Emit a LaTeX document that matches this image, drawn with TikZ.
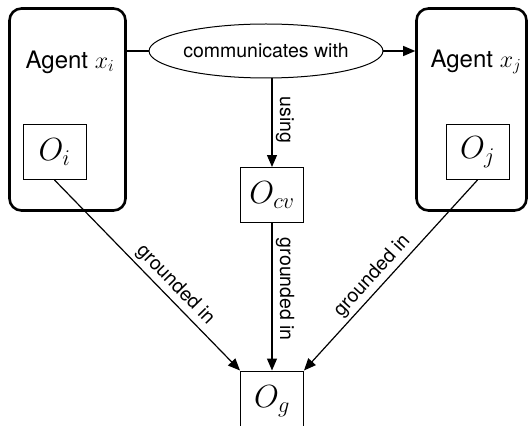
\documentclass[tikz,border=0pt]{standalone}
\usepackage{fix-cm}
\usepackage{fontspec}
\setmainfont{TeX Gyre Heros}
\usetikzlibrary{shapes.geometric,arrows.meta}
\begin{document}
\begin{tikzpicture}[x=1pt,y=-1pt,
	agent/.style={draw,line width=2.6pt,rounded corners=12pt,minimum width=#1,minimum height=202pt,inner sep=0pt},
	ontbox/.style={draw,line width=1pt,minimum width=63pt,minimum height=55pt,inner sep=0pt,font=\fontsize{32}{34}\selectfont},
	lbl/.style={font=\fontsize{19.5}{21}\selectfont},
	arr/.style={line width=1.2pt,-{Triangle[length=12pt,width=10pt]}}]
	\useasboundingbox (0,0) rectangle (529,425);
	% the two agents
	\node[agent=116pt] (agi) at (67.5,109.5) {};
	\node[agent=110pt] (agj) at (471.5,109.5) {};
	\node[font=\fontsize{24}{26}\selectfont] (ti) at (70,62) {Agent $x_i$};
	\node[font=\fontsize{24}{26}\selectfont] (tj) at (476,62) {Agent $x_j$};
	% ontologies
	\node[ontbox] (oi) at (54.5,152) {$O_i$};
	\node[ontbox] (oj) at (477.5,152) {$O_j$};
	\node[ontbox] (ocv) at (272,195) {$O_{cv}$};
	\node[ontbox,minimum height=60pt] (og) at (272,401) {$O_g$};
	\node[draw,ellipse,line width=1pt,minimum width=216pt,minimum height=54pt,inner sep=0pt,lbl] (ell) at (266,51) {communicates with};
	% connectors
	\draw[line width=1.2pt] (ell.west -| agi.east) -- (ell.west);
	\draw[arr] (ell.east) -- (ell.east -| agj.west);
	\draw[arr] (ocv.north |- ell.south) -- node[lbl,sloped,above,pos=0.47] {using} (ocv.north);
	\draw[arr] (oi.south) -- node[lbl,sloped,above,pos=0.6] {grounded in} (og.north west);
	\draw[arr] (ocv.south) -- node[lbl,sloped,above,pos=0.45] {grounded in} (og.north);
	\draw[arr] (oj.south) -- node[lbl,sloped,above,pos=0.55] {grounded in} (og.north east);
\end{tikzpicture}
\end{document}
